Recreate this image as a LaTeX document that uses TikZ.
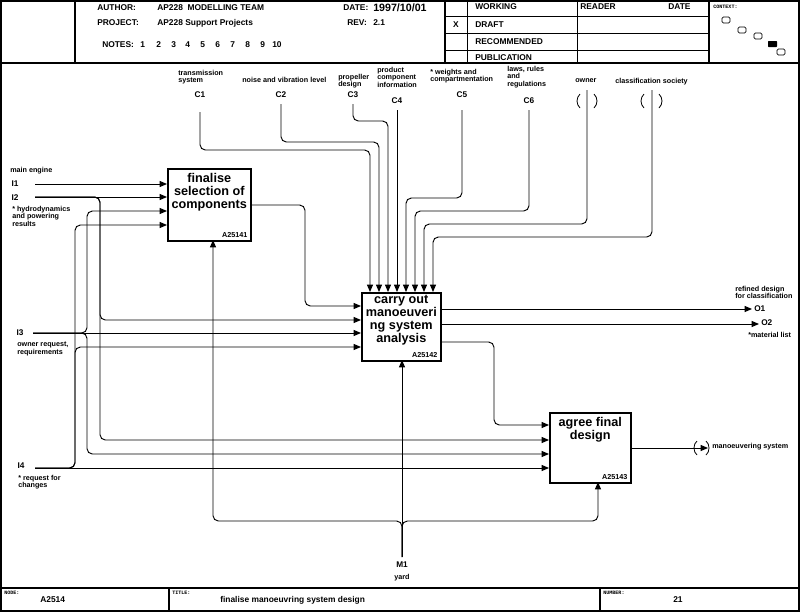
\documentclass[tikz,border=0pt]{standalone}
\usepackage{fontspec}
\setmainfont{Liberation Sans}
\setmonofont{Liberation Mono}
\usetikzlibrary{arrows.meta}

\begin{document}
\begin{tikzpicture}[
    x=0.75pt, y=-0.75pt,
    every node/.style={inner sep=0pt, font=\bfseries\fontsize{5.4}{5.6}\selectfont},
    activity/.style={draw, line width=1.2pt, anchor=north west},
    acttext/.style={anchor=north, align=center, font=\bfseries\fontsize{9.5}{9.7}\selectfont},
    boxid/.style={anchor=south east, xshift=-3pt, yshift=3pt},
    lbl/.style={align=left, anchor=north west},
    cid/.style={font=\bfseries\fontsize{6.2}{7}\selectfont},
    head/.style={anchor=west, font=\bfseries\fontsize{6.3}{7}\selectfont},
    tinytxt/.style={anchor=north west, font=\ttfamily\bfseries\fontsize{3.8}{4}\selectfont},
    border/.style={line width=1.1pt},
    grid/.style={line width=0.6pt},
    flow/.style={line width=0.7pt, rounded corners=4pt},
    arr/.style={flow, -{Triangle[length=5.5pt, width=4.5pt]}},
    tunnel/.style={line width=0.6pt},
]
\useasboundingbox (0,0) rectangle (800,612);

% frame
\draw[border] (1,1) rectangle (799,611);
\draw[border] (0,63) -- (800,63);
\draw[border] (75,0) -- (75,63);
\draw[border] (445,0) -- (445,63);
\draw[border] (709,0) -- (709,63);
\draw[border] (0,588) -- (800,588);
\draw[border] (169,588) -- (169,612);
\draw[border] (600,588) -- (600,612);
\draw[grid] (467,0) -- (467,63);
\draw[grid] (577,0) -- (577,63);
\foreach \y in {16,33,50} \draw[grid] (445,\y) -- (709,\y);

% header
\node[head] at (97,8) {AUTHOR:};
\node[head] at (157,8) {AP228\ \ MODELLING TEAM};
\node[head] at (343,8) {DATE:};
\node[head, font=\bfseries\fontsize{8}{9}\selectfont] at (373,8) {1997/10/01};
\node[head] at (97,23) {PROJECT:};
\node[head] at (157,23) {AP228 Support Projects};
\node[head] at (347,23) {REV:};
\node[head] at (373,23) {2.1};
\node[head] at (102,45) {NOTES:};
\foreach \n/\x in {1/140,2/156,3/171,4/185,5/200,6/215,7/230,8/245,9/260,10/272}
    \node[head] at (\x,45) {\n};
\node[head] at (475,7) {WORKING};
\node[head, anchor=center] at (456,25) {X};
\node[head] at (475,25) {DRAFT};
\node[head] at (475,42) {RECOMMENDED};
\node[head] at (475,58) {PUBLICATION};
\node[head] at (580,7) {READER};
\node[head] at (668,7) {DATE};
\node[tinytxt] at (713,5) {CONTEXT:};
\foreach \x/\y in {722/17,738/27,754/33,777/49}
    \draw[grid, rounded corners=1pt] (\x,\y) rectangle ++(8,6);
\fill[rounded corners=0.5pt] (768,41) rectangle ++(9,6);

% footer
\node[tinytxt] at (4,591) {NODE:};
\node[head] at (40,600) {A2514};
\node[tinytxt] at (172,591) {TITLE:};
\node[head] at (220,600) {finalise manoeuvring system design};
\node[tinytxt] at (603,591) {NUMBER:};
\node[head] at (673,600) {21};

% activities
\node[activity, minimum width=62.25pt, minimum height=54pt] (box1) at (167,168) {};
\node[acttext] at ([yshift=-4pt]box1.north) {finalise\\selection of\\components};
\node[boxid] at (box1.south east) {A25141};

\node[activity, minimum width=59.25pt, minimum height=51pt] (box2) at (361,292) {};
\node[acttext] at ([yshift=-2.5pt]box2.north) {carry out\\manoeuveri\\ng system\\analysis};
\node[boxid] at (box2.south east) {A25142};

\node[activity, minimum width=60.75pt, minimum height=52.5pt] (box3) at (549,412) {};
\node[acttext] at ([yshift=-4pt]box3.north) {agree final\\design};
\node[boxid] at (box3.south east) {A25143};

% ports
\coordinate (b1w1) at (167,184);
\coordinate (b1w2) at (167,197);
\coordinate (b1w3) at (167,211);
\coordinate (b1w4) at (167,225);
\coordinate (b1e) at (250,205);
\coordinate (b1s) at (213,240);
\foreach \k in {1,...,8}
    \coordinate (b2n\k) at ([xshift=\k*6.75pt]box2.north west);
\coordinate (b2w1) at (361,306);
\coordinate (b2w2) at (361,320);
\coordinate (b2w3) at (361,333);
\coordinate (b2w4) at (361,347);
\coordinate (b2e1) at (440,309);
\coordinate (b2e2) at (440,324);
\coordinate (b2e3) at (440,342);
\coordinate (b2s) at (402,360);
\coordinate (b3w1) at (549,425);
\coordinate (b3w2) at (549,440);
\coordinate (b3w3) at (549,454);
\coordinate (b3w4) at (549,468);
\coordinate (b3e) at (630,448);
\coordinate (b3s) at (598,482);

% controls
\node[lbl] at (178,70) {transmission\\system};
\node[cid] (C1) at (200,95) {C1};
\node[lbl] at (242,77) {noise and vibration level};
\node[cid] (C2) at (281,95) {C2};
\node[lbl] at (338,74) {propeller\\design};
\node[cid] (C3) at (353,95) {C3};
\node[lbl] at (377,67) {product\\component\\information};
\node[cid] (C4) at (397,101) {C4};
\node[lbl] at (430,69) {* weights and\\compartmentation};
\node[cid] (C5) at (462,95) {C5};
\node[lbl] at (507,66) {laws, rules\\and\\regulations};
\node[cid] (C6) at (529,101) {C6};
\node[lbl] at (575,78) {owner};
\node[lbl] at (615,78) {classification society};

\coordinate (c1) at (200,112);
\coordinate (c2) at (281,104);
\coordinate (c3) at (353,104);
\coordinate (c4) at (397,110);
\coordinate (c5) at (462,110);
\coordinate (c6) at (529,110);
\coordinate (cown) at (587,90);
\coordinate (ccls) at (652,90);

\draw[arr] (c1) -- ++(0,38) -| (b2n1);
\draw[arr] (c2) -- ++(0,38) -| (b2n2);
\draw[arr] (c3) -- ++(0,17) -| (b2n3);
\draw[arr] (c4) -- (b2n4);
\draw[arr] (c5) -- ++(0,88) -| (b2n5);
\draw[arr] (c6) -- ++(0,101) -| (b2n6);
\draw[arr] (cown) -- ++(0,134) -| (b2n7);
\draw[arr] (ccls) -- ++(0,147) -| (b2n8);

\draw[tunnel] (580,94) .. controls (576,98) and (576,104) .. (580,108);
\draw[tunnel] (594,94) .. controls (598,98) and (598,104) .. (594,108);
\draw[tunnel] (644,94) .. controls (640,98) and (640,104) .. (644,108);
\draw[tunnel] (659,94) .. controls (663,98) and (663,104) .. (659,108);

% inputs
\node[lbl] at (10,167) {main engine};
\node[cid] (I1) at (15,184) {I1};
\node[cid] (I2) at (15,198) {I2};
\node[lbl] at (12,206) {* hydrodynamics\\and powering\\results};
\node[cid] (I3) at (20,333) {I3};
\node[lbl] at (17,342) {owner request,\\requirements};
\node[cid] (I4) at (21,466) {I4};
\node[lbl] at (18,475) {* request for\\changes};

\coordinate (i1) at (35,184);
\coordinate (i2) at (35,197);
\coordinate (i3) at (33,333);
\coordinate (i4) at (35,468);

\draw[arr] (i1) -- (b1w1);
\draw[arr] (i2) -- (b1w2);
\draw[arr] (i2) -- ++(65,0) |- (b2w2);
\draw[arr] (i2) -- ++(65,0) |- (b3w2);
\draw[arr] (i3) -- (b2w3);
\draw[arr] (i3) -- ++(54,0) |- (b1w3);
\draw[arr] (i3) -- ++(54,0) |- (b3w3);
\draw[arr] (i4) -- (b3w4);
\draw[arr] (i4) -- ++(40,0) |- (b1w4);
\draw[arr] (i4) -- ++(40,0) |- (b2w4);

% internal flows
\draw[arr] (b1e) -- ++(55,0) |- (b2w1);
\draw[arr] (b2e3) -- ++(54,0) |- (b3w1);

% outputs
\coordinate (o1) at (752,309);
\coordinate (o2) at (759,324);
\coordinate (oms) at (708,448);
\draw[arr] (b2e1) -- (o1);
\draw[arr] (b2e2) -- (o2);
\draw[arr] (b3e) -- (oms);
\node[cid, anchor=west] (O1) at (754,309) {O1};
\node[cid, anchor=west] (O2) at (761,323) {O2};
\node[lbl] at (735,286) {refined design\\for classification};
\node[lbl] at (748,332) {*material list};
\node[anchor=west] at (712,447) {manoeuvering system};
\draw[tunnel] (697,441) .. controls (693,444) and (693,452) .. (697,455);
\draw[tunnel] (706,441) .. controls (710,444) and (710,452) .. (706,455);

% mechanism
\node[cid] (M1) at (402,565) {M1};
\node at (402,578) {yard};
\coordinate (m1) at (402,557);
\draw[arr] (m1) -- (b2s);
\draw[arr] (m1) -- ++(0,-36) -| (b1s);
\draw[arr] (m1) -- ++(0,-36) -| (b3s);

\end{tikzpicture}
\end{document}
